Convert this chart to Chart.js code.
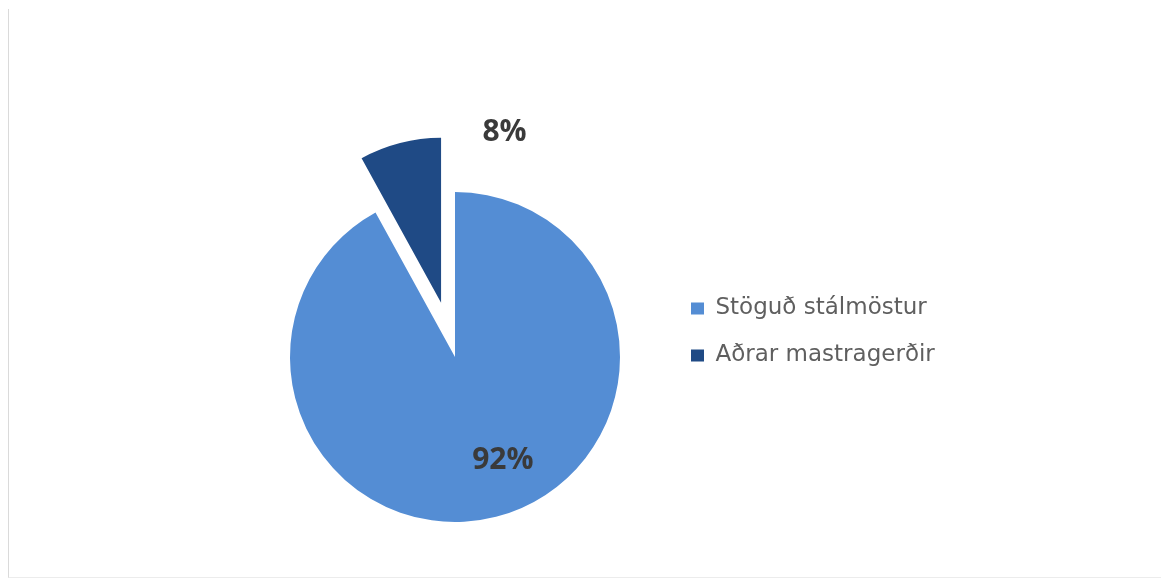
<!DOCTYPE html>
<html>
<head>
<meta charset="utf-8">
<script src="https://cdn.jsdelivr.net/npm/chart.js@4"></script>
<style>
  html, body { margin: 0; padding: 0; background: #fff; }
  #wrap { position: relative; width: 1161px; height: 581px; }
  #frame { position: absolute; left: 8px; top: 9px; width: 1160px; height: 568px;
           border-left: 1px solid #dadada; border-bottom: 1px solid #ececec; }
</style>
</head>
<body>
<div id="wrap">
  <div id="frame"></div>
  <canvas id="mastChart"></canvas>
</div>
<script>
// Gögn
const flokkar = ['Stöguð stálmöstur', 'Aðrar mastragerðir'];
const hlutfall = [92, 8];
const litir = ['#548dd4', '#1f4a85'];

const legendFont = 23;
const legendPad = 24;

// mæla breidd texta til að stilla stöðu skýringar
const mctx = document.createElement('canvas').getContext('2d');
mctx.font = legendFont + 'px "DejaVu Sans"';
const textW = Math.max(...flokkar.map(t => mctx.measureText(t).width));
const legendW = textW + 13 + legendFont / 2 + legendPad + 10;

// dregur litlu sneiðina út frá miðju (eins og í Excel)
const sprenging = {
    id: 'sprenging',
    afterDatasetUpdate(chart, args, opts) {
        const arc = args.meta.data[opts.index];
        if (!arc) return;
        const mid = (arc.startAngle + arc.endAngle) / 2;
        arc.x += Math.cos(mid) * opts.distance;
        arc.y += Math.sin(mid) * opts.distance;
    }
};

// prósentumerki á sneiðum
const prosentur = {
    id: 'prosentur',
    afterDatasetsDraw(chart) {
        const ctx = chart.ctx;
        const meta = chart.getDatasetMeta(0);
        const midja = meta.data[0].getProps(['x', 'y', 'outerRadius'], true);
        const stadir = [[0.29, 0.63], [0.30, -1.36]];
        ctx.save();
        ctx.font = 'bold 30px "Open Sans"';
        ctx.fillStyle = '#3a3a3a';
        ctx.textAlign = 'center';
        ctx.textBaseline = 'middle';
        meta.data.forEach(function(arc, i) {
            const x = midja.x + stadir[i][0] * midja.outerRadius;
            const y = midja.y + stadir[i][1] * midja.outerRadius;
            ctx.fillText(hlutfall[i] + '%', x, y);
        });
        ctx.restore();
    }
};

const canvas = document.getElementById('mastChart');
new Chart(canvas.getContext('2d'), {
    type: 'pie',
    data: {
        labels: flokkar,
        datasets: [{
            data: hlutfall,
            backgroundColor: litir,
            borderWidth: 0,
            clip: false
        }]
    },
    options: {
        responsive: true,
        maintainAspectRatio: false,
        animation: false,
        cutout: '0%',
        radius: 165,
        layout: {
            padding: { left: 243, right: 1161 - 667 - legendW, top: 273, bottom: 140 }
        },
        plugins: {
            sprenging: { index: 1, distance: 56 },
            legend: {
                display: true,
                position: 'right',
                align: 'start',
                labels: {
                    boxWidth: 13,
                    boxHeight: 12,
                    padding: legendPad,
                    color: '#5f5f5f',
                    font: { family: '"DejaVu Sans"', size: legendFont }
                }
            },
            tooltip: { enabled: false }
        }
    },
    plugins: [sprenging, prosentur]
});
</script>
</body>
</html>
